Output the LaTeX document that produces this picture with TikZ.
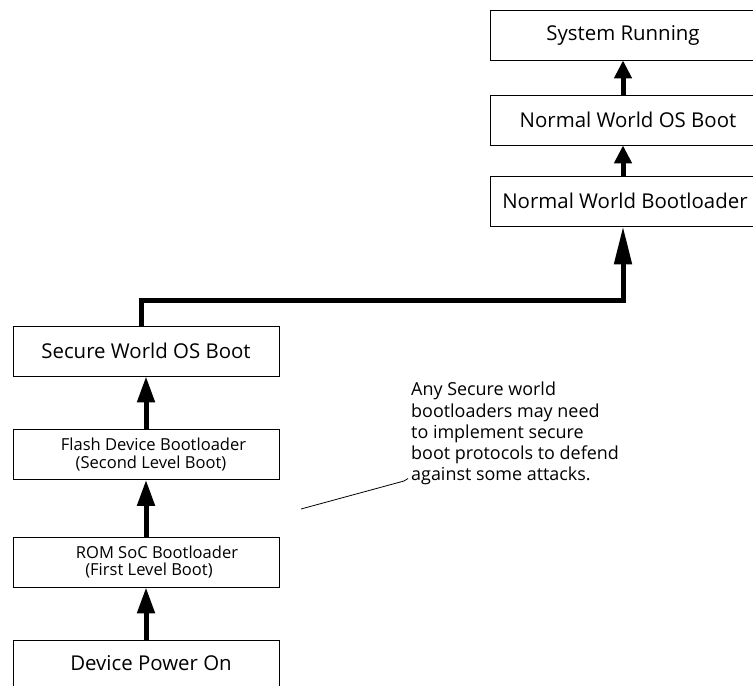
\documentclass[tikz,border=0pt]{standalone}
\usepackage{fontspec}
\setmainfont{Open Sans}
\usetikzlibrary{arrows.meta}
\tikzset{
  stage/.style={draw, line width=0.8bp, minimum width=266bp, minimum height=50bp,
    inner sep=0pt, align=center, font=\fontsize{20.5}{24}\selectfont},
  smallstage/.style={stage, font=\fontsize{16.6}{17.5}\selectfont},
  flow/.style={line width=5bp, -{Triangle[length=26bp,width=17bp]}},
  shortflow/.style={line width=5bp, -{Triangle[length=18bp,width=17bp]}},
  longflow/.style={line width=5bp, -{Triangle[length=38bp,width=17bp]}},
  note/.style={align=left, inner sep=0pt, anchor=north west,
    font=\fontsize{18}{21.3}\selectfont}
}
\begin{document}
\begin{tikzpicture}[x=1bp, y=-1bp]
  \useasboundingbox (0,0) rectangle (753,686);
  % normal world chain
  \node[stage] (run) at (623,35) {System Running};
  \node[stage] (nwos) at (623,120) {\hspace*{10bp}Normal World OS Boot};
  \node[stage] (nwbl) at (623,201) {\hspace*{4bp}Normal World Bootloader};
  % secure world chain
  \node[stage] (swos) at (146,351) {Secure World OS Boot};
  \node[smallstage] (flash) at (146,454.5) {\hspace*{15bp}Flash Device Bootloader\\\hspace*{10bp}(Second Level Boot)};
  \node[smallstage] (rom) at (146,562) {\hspace*{22bp}ROM SoC Bootloader\\\hspace*{6bp}(First Level Boot)};
  \node[stage] (power) at (146,665) {\hspace*{10bp}\raisebox{5bp}{Device Power On}};
  % annotation
  \node[note] (txt) at (411,382) {Any Secure world\\bootloaders may need\\to implement secure\\boot protocols to defend\\against some attacks.};
  \coordinate (lead) at (301,509);
  \draw[line width=0.8bp] (lead) -- (404,481) -- (408,478.5);
  % connectors
  \draw[flow] (power.north) -- (rom.south);
  \draw[flow] (rom.north) -- (flash.south);
  \draw[flow] (flash.north) -- (swos.south);
  \coordinate (sw) at (141,326);
  \draw[longflow] (sw) |- (623,300) -- (nwbl.south);
  \draw[shortflow] (nwbl.north) -- (nwos.south);
  \draw[shortflow] (nwos.north) -- (run.south);
\end{tikzpicture}
\end{document}
